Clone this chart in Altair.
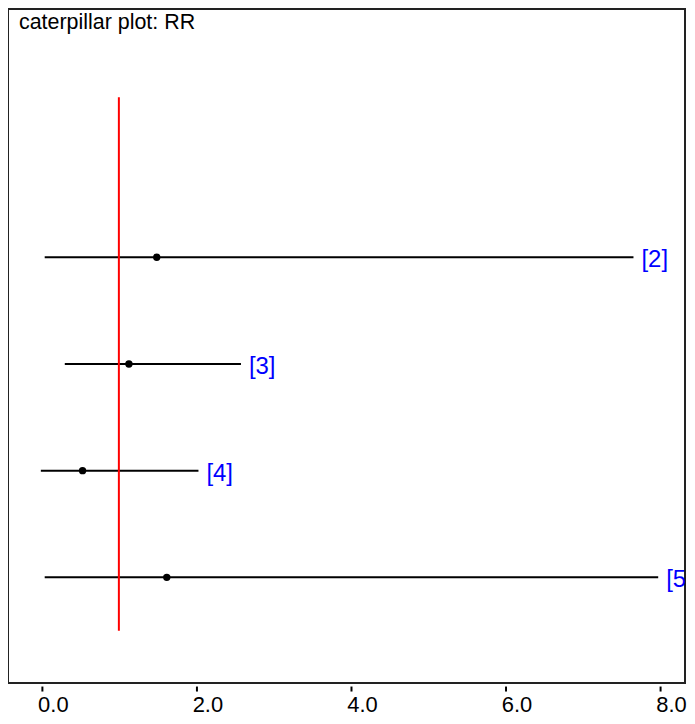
import altair as alt
import pandas as pd

labels = ["[2]", "[3]", "[4]", "[5]"]
rows = [2, 3, 4, 5]
lower = [0.04, 0.30, -0.01, 0.04]
upper = [7.66, 2.58, 2.03, 7.98]
mean = [1.49, 1.13, 0.53, 1.62]

ref_x = [1.0]
ref_top = [0.5]
ref_bottom = [5.5]

df = pd.DataFrame({"label": labels, "row": rows, "lower": lower, "upper": upper, "mean": mean})
ref = pd.DataFrame({"x": ref_x, "y": ref_top, "y2": ref_bottom})

xscale = alt.Scale(domain=[-0.435, 8.327], nice=False, zero=False)
yscale = alt.Scale(domain=[-0.327, 5.991], reverse=True, nice=False, zero=False)

xaxis = alt.Axis(values=[0, 2, 4, 6, 8], format=".1f", title=None, domain=False, grid=False,
                 offset=3, tickSize=5, tickWidth=2, tickColor="black",
                 labelFont="Liberation Sans", labelFontSize=22, labelColor="black",
                 labelAlign="left", labelOffset=-4, labelPadding=4, labelFlush=False)

base = alt.Chart(df)

ranges = base.mark_rule(color="black", strokeWidth=2).encode(
    x=alt.X("lower:Q", scale=xscale, axis=xaxis),
    x2="upper:Q",
    y=alt.Y("row:Q", scale=yscale, axis=None),
)

points = base.mark_circle(color="black", opacity=1, size=55).encode(
    x=alt.X("mean:Q"),
    y=alt.Y("row:Q"),
)

texts = base.mark_text(color="#0000ff", font="Liberation Sans", fontSize=24, align="left",
                       baseline="middle", dx=8, dy=3, clip=True).encode(
    x=alt.X("upper:Q"),
    y=alt.Y("row:Q"),
    text="label:N",
)

refline = alt.Chart(ref).mark_rule(color="red", strokeWidth=2).encode(
    x=alt.X("x:Q"),
    y=alt.Y("y:Q"),
    y2="y2:Q",
)

chart = alt.layer(ranges, refline, points, texts).properties(
    width=679, height=676,
    title=alt.TitleParams("caterpillar plot: RR", anchor="start", frame="group", orient="top",
                          offset=-25, dx=11, font="Liberation Sans", fontSize=21.5,
                          fontWeight="normal", color="black"),
    padding={"left": 0, "top": 0, "right": 0, "bottom": 0},
).configure_view(stroke="#222222", strokeWidth=2)

chart.save("out.html", embed_options={"renderer": "svg", "actions": False})
